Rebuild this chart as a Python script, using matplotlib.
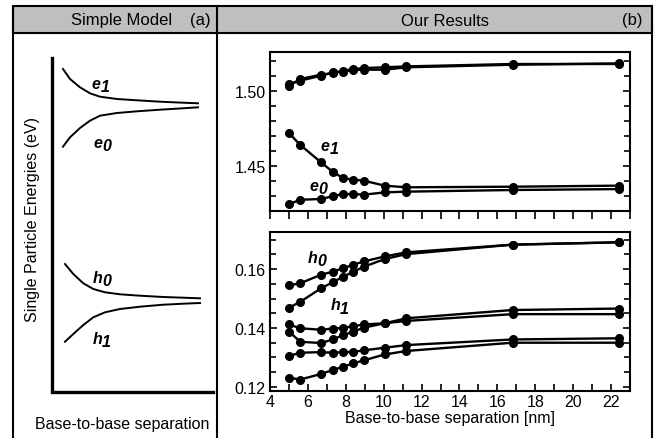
import matplotlib
matplotlib.use("Agg")
import matplotlib.pyplot as plt
from matplotlib.patches import Rectangle
from matplotlib.ticker import MultipleLocator

plt.rcParams['font.family'] = ['Liberation Sans', 'DejaVu Sans']

# ---------------- data ----------------
sep = [5.0, 5.6, 6.7, 7.3, 7.85, 8.4, 8.95, 10.05, 11.2, 16.8, 22.4]

# electron levels (eV)
e_hi_a = [1.5033, 1.5078, 1.5107, 1.5116, 1.5133, 1.5144, 1.5151, 1.5156, 1.5162, 1.5178, 1.5178]
e_hi_b = [1.5044, 1.5067, 1.5100, 1.5122, 1.5127, 1.5138, 1.5140, 1.5140, 1.5156, 1.5173, 1.5182]
e1 = [1.4718, 1.4638, 1.4522, 1.4460, 1.4418, 1.4407, 1.4400, 1.4367, 1.4356, 1.4360, 1.4367]
e0 = [1.4244, 1.4273, 1.4278, 1.4296, 1.4311, 1.4311, 1.4307, 1.4322, 1.4327, 1.4338, 1.4344]

# hole levels (eV)
h0 = [0.1545, 0.1552, 0.1581, 0.1591, 0.1603, 0.1615, 0.1626, 0.1643, 0.1657, 0.1683, 0.1691]
h1 = [0.1469, 0.1489, 0.1535, 0.1555, 0.1574, 0.1591, 0.1608, 0.1634, 0.1651, 0.1683, 0.1691]
h_a = [0.1412, 0.1399, 0.1394, 0.1398, 0.1400, 0.1406, 0.1412, 0.1416, 0.1424, 0.1447, 0.1447]
h_b = [0.1388, 0.1353, 0.1349, 0.1361, 0.1375, 0.1388, 0.1401, 0.1416, 0.1433, 0.1461, 0.1466]
h_c = [0.1305, 0.1316, 0.1318, 0.1316, 0.1318, 0.1319, 0.1324, 0.1333, 0.1342, 0.1361, 0.1365]
h_d = [0.1231, 0.1225, 0.1244, 0.1257, 0.1268, 0.1280, 0.1290, 0.1310, 0.1322, 0.1350, 0.1350]

# schematic curves of panel (a), in picture pixels
sk_x = [63, 70, 80, 90, 100, 117, 137, 160, 183, 198]
sk_e1 = [70, 80, 88.3, 94.3, 97.7, 100, 101.3, 102.7, 103.7, 104.3]
sk_e0 = [147.7, 138.3, 129, 121.7, 116.7, 114, 112.3, 110.7, 109.3, 108.3]
skh_x = [65, 73.3, 83.3, 93.3, 105, 120, 140, 163.3, 183.3, 200]
sk_h0 = [265, 275, 284.3, 290, 293.3, 295.3, 296.7, 298, 298.7, 299.3]
sk_h1 = [342.7, 335, 326, 318.3, 313.3, 310, 307.7, 305.7, 304.7, 304]

W, H = 660, 439
fig = plt.figure(figsize=(W / 100, H / 100), dpi=100)

# ---------------- frame, headers and panel (a) ----------------
bg = fig.add_axes([0, 0, 1, 1])
bg.set_xlim(0, W)
bg.set_ylim(H, 0)
bg.axis("off")

bg.add_patch(Rectangle((12.7, 7.3), 652 - 12.7, 34 - 7.3, facecolor="#bfbfbf",
                       edgecolor="black", lw=1.5))
for xv in [12.7, 217.3, 652]:
    bg.plot([xv, xv], [7.3, H + 2], color="black", lw=1.5, solid_capstyle="butt")

bg.text(122, 21, "Simple Model", ha="center", va="center", fontsize=12)
bg.text(200, 21, "(a)", ha="center", va="center", fontsize=12)
bg.text(445, 21, "Our Results", ha="center", va="center", fontsize=12)
bg.text(632, 21, "(b)", ha="center", va="center", fontsize=12)

bg.plot([51.7, 51.7, 212.7], [59, 393.3, 393.3], color="black", lw=2.4,
        solid_joinstyle="miter")
for ys in [sk_e1, sk_e0]:
    bg.plot(sk_x, ys, color="black", lw=1.4)
for ys in [sk_h0, sk_h1]:
    bg.plot(skh_x, ys, color="black", lw=1.4)


def level_label(ax, x, y, letter, digit, transform=None):
    kw = dict(fontsize=11.5, style="italic", fontweight="bold")
    if transform is None:
        transform = ax.transData
    ax.text(x, y, letter, ha="left", va="baseline", transform=transform, **kw)
    ax.annotate(digit, (x, y), xycoords=transform, xytext=(6.5, -2.5),
                textcoords="offset points", ha="left", va="baseline", **kw)


level_label(bg, 92, 89, "e", "1")
level_label(bg, 93, 148, "e", "0")
level_label(bg, 93, 283, "h", "0")
level_label(bg, 93, 344, "h", "1")

bg.text(33, 220, "Single Particle Energies (eV)", rotation=90, ha="center",
        va="center", fontsize=11.5)
bg.text(121.7, 425, "Base-to-base separation", ha="center", va="center",
        fontsize=11.5)

# ---------------- panel (b) ----------------
left, width = 270 / W, 360 / W
ax_e = fig.add_axes([left, (H - 212) / H, width, 159 / H])
ax_h = fig.add_axes([left, (H - 392) / H, width, 159 / H])

style = dict(color="black", lw=1.7, marker="o", ms=5.5)
for ys in [e_hi_a, e_hi_b, e1, e0]:
    ax_e.plot(sep, ys, **style)
for ys in [h0, h1, h_a, h_b, h_c, h_d]:
    ax_h.plot(sep, ys, **style)

ax_e.set_ylim(1.4198, 1.5258)
ax_h.set_ylim(0.1186, 0.1726)
ax_e.yaxis.set_major_locator(MultipleLocator(0.05))
ax_e.yaxis.set_minor_locator(MultipleLocator(0.01))
ax_h.yaxis.set_major_locator(MultipleLocator(0.02))
ax_h.yaxis.set_minor_locator(MultipleLocator(0.005))
ax_e.yaxis.set_major_formatter(matplotlib.ticker.FormatStrFormatter("%.2f"))
ax_h.yaxis.set_major_formatter(matplotlib.ticker.FormatStrFormatter("%.2f"))

for ax in [ax_e, ax_h]:
    ax.set_xlim(4, 23)
    ax.xaxis.set_major_locator(MultipleLocator(2))
    ax.xaxis.set_minor_locator(MultipleLocator(1))
    for sp in ax.spines.values():
        sp.set_linewidth(1.5)
    ax.tick_params(axis="y", which="both", direction="in", left=True, right=True,
                   width=1.2, labelsize=11.5, pad=3)
    ax.tick_params(axis="y", which="major", length=5)
    ax.tick_params(axis="y", which="minor", length=4)

ax_e.tick_params(axis="x", which="both", direction="out", top=False, bottom=True,
                 labelbottom=False, width=1.2, length=6)
ax_h.tick_params(axis="x", which="both", direction="in", top=False, bottom=True,
                 width=1.2, length=5, labelsize=11.5, pad=2)
ax_h.set_xlabel("Base-to-base separation [nm]", fontsize=11.5, labelpad=1)

level_label(ax_e, 6.65, 1.4605, "e", "1")
level_label(ax_e, 6.1, 1.434, "e", "0")
level_label(ax_h, 6.0, 0.1625, "h", "0")
level_label(ax_h, 7.2, 0.1463, "h", "1")

fig.savefig("out.png", dpi=100)
